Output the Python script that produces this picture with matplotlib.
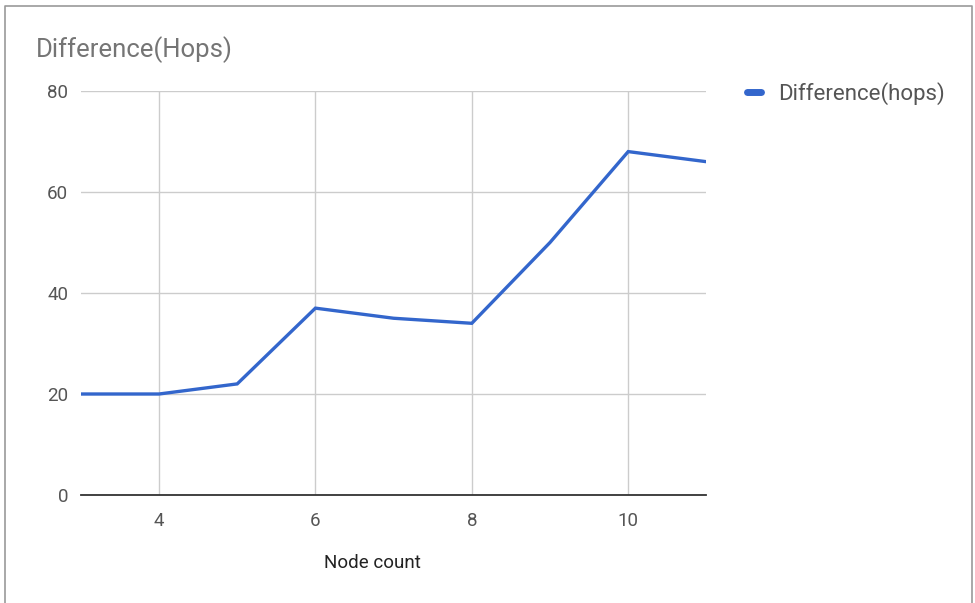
import matplotlib.pyplot as plt
from matplotlib.lines import Line2D

plt.rcParams['font.family'] = ['Roboto', 'DejaVu Sans']

# Diferencia en saltos por número de nodos
node_count = [3, 4, 5, 6, 7, 8, 9, 10, 11]
diff_hops = [20, 20, 22, 37, 35, 34, 50, 68, 66]
x_ticks = [4, 6, 8, 10]
y_ticks = [0, 20, 40, 60, 80]

fig = plt.figure(figsize=(9.75, 6.03), dpi=100)
ax = fig.add_axes([0.0829, 0.1791, 0.6416, 0.670])

ax.plot(node_count, diff_hops, color='#3366cc', linewidth=2.4,
        label='Difference(hops)', solid_joinstyle='miter')

ax.set_xlim(3, 11)
ax.set_ylim(0, 80)
ax.set_xticks(x_ticks)
ax.set_yticks(y_ticks)
ax.grid(True, color='#cccccc', linewidth=1)
ax.set_axisbelow(True)
ax.axhline(0, color='#333333', linewidth=1.3, clip_on=False)
for s in ax.spines.values():
    s.set_visible(False)
ax.tick_params(length=0, labelsize=13.5, labelcolor='#555555')
ax.tick_params(axis='x', pad=12)
ax.tick_params(axis='y', pad=9)

fig.text(372 / 975, 1 - 563 / 603, 'Node count', fontsize=13.5,
         color='#222222', ha='center', va='center')
fig.text(0.037, 1 - 50 / 603, 'Difference(Hops)', fontsize=18.5,
         color='#757575', ha='left', va='center')

leg = ax.legend(loc='upper left', bbox_to_anchor=(1.05, 1.045), frameon=False,
                fontsize=16, handlelength=0.65, handletextpad=0.75,
                borderaxespad=0)
for t in leg.get_texts():
    t.set_color('#555555')
for h in leg.get_lines():
    h.set_linewidth(5)
    h.set_solid_capstyle('round')

# marco alrededor del gráfico
frame_x = [5 / 975, 5 / 975, 972 / 975, 972 / 975]
frame_y = [0, 1 - 6 / 603, 1 - 6 / 603, 0]
fig.add_artist(Line2D(frame_x, frame_y, color='#999999', linewidth=1.2,
                      transform=fig.transFigure))

fig.savefig('out.png', dpi=100)
